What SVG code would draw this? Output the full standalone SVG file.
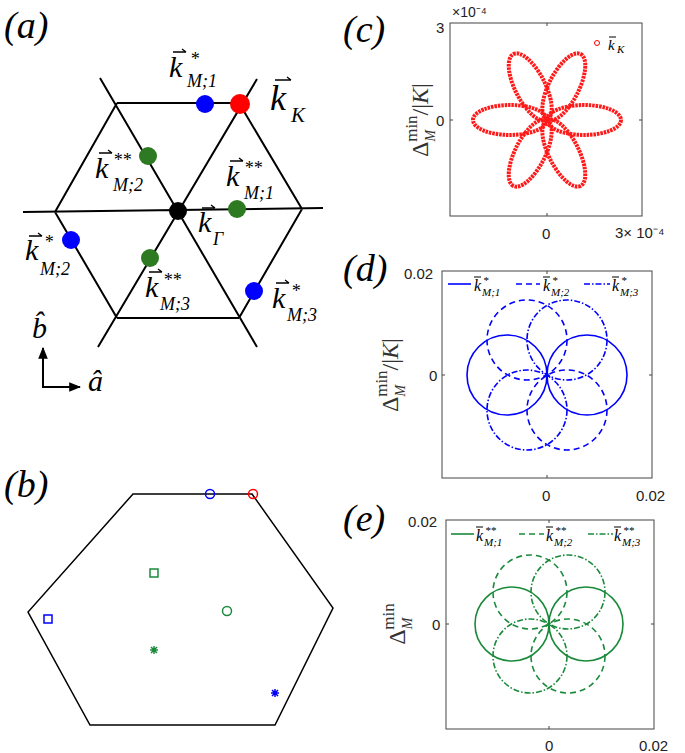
<svg xmlns="http://www.w3.org/2000/svg" width="685" height="753" viewBox="0 0 685 753">
<style>
.ln{stroke:#000;stroke-width:2;fill:none}
.k{font-family:'Liberation Serif',serif;font-style:italic;font-size:30px}
.sb{font-family:'Liberation Serif',serif;font-style:italic;font-size:18px}
.pl{font-family:'Liberation Serif',serif;font-style:italic;font-size:38px}
.tk{font-family:'Liberation Sans',sans-serif;font-size:15px;fill:#222}
.ax{fill:none;stroke:#444;stroke-width:1}
.lg{font-family:'Liberation Serif',serif;font-style:italic;font-size:18px}
.ls{font-family:'Liberation Serif',serif;font-style:italic;font-size:11px}
.ar{stroke:#000;stroke-width:1.3;fill:none}
.yl{font-family:'Liberation Serif',serif;font-size:24px;fill:#333}
</style>
<defs>
<marker id="ah" viewBox="0 0 10 10" refX="9" refY="5" markerWidth="6" markerHeight="6" orient="auto"><path d="M0,1 L10,5 L0,9 z"/></marker>
</defs>
<rect width="685" height="753" fill="#fff"/>
<text class="pl" x="4" y="38">(a)</text>
<text class="pl" x="4" y="497">(b)</text>
<text class="pl" x="343" y="42">(c)</text>
<text class="pl" x="343" y="281">(d)</text>
<text class="pl" x="343" y="531">(e)</text>
<g id="panel-a">
<path class="ln" d="M117,103 H239 M117,318 H239 M23,212 L323,208 M100,78 L257,347 M257,79 L98,347 M117,103 L55,212 L117,318 M239,103 L302,209 L239,318"/>
<circle cx="205" cy="104" r="9" fill="#0000ff"/>
<circle cx="240" cy="104" r="10" fill="#ff0000"/>
<circle cx="148" cy="156" r="9" fill="#2e7a22"/>
<circle cx="237" cy="209" r="9" fill="#2e7a22"/>
<circle cx="150" cy="258" r="9" fill="#2e7a22"/>
<circle cx="71" cy="240" r="9" fill="#0000ff"/>
<circle cx="254" cy="291" r="9" fill="#0000ff"/>
<circle cx="178" cy="211" r="9" fill="#000"/>
<g>
<text class="k" x="169" y="77">k</text><path class="ar" d="M173,52 H186 M182,49 L186,52"/><text class="sb" x="190" y="65">*</text><text class="sb" x="187" y="87">M;1</text>
<text class="k" x="270" y="110" style="font-size:36px">k</text><path class="ar" d="M275,80 H291 M287,77 L291,80"/><text class="sb" x="291" y="122" style="font-size:21px">K</text>
<text class="k" x="95" y="178">k</text><path class="ar" d="M99,153 H112 M108,150 L112,153"/><text class="sb" x="113" y="166">**</text><text class="sb" x="113" y="191">M;2</text>
<text class="k" x="226" y="186">k</text><path class="ar" d="M230,161 H243 M239,158 L243,161"/><text class="sb" x="244" y="174">**</text><text class="sb" x="244" y="199">M;1</text>
<text class="k" x="198" y="232">k</text><path class="ar" d="M202,208 H215 M211,205 L215,208"/><text class="sb" x="213" y="245">Γ</text>
<text class="k" x="25" y="260">k</text><path class="ar" d="M29,236 H42 M38,233 L42,236"/><text class="sb" x="44" y="248">*</text><text class="sb" x="40" y="275">M;2</text>
<text class="k" x="145" y="297">k</text><path class="ar" d="M149,272 H162 M158,269 L162,272"/><text class="sb" x="163" y="286">**</text><text class="sb" x="160" y="310">M;3</text>
<text class="k" x="272" y="308">k</text><path class="ar" d="M276,283 H289 M285,280 L289,283"/><text class="sb" x="291" y="297">*</text><text class="sb" x="287" y="321">M;3</text>
</g>
<path d="M43,387 V348" stroke="#000" stroke-width="2" marker-end="url(#ah)"/>
<path d="M42,387 H80" stroke="#000" stroke-width="2" marker-end="url(#ah)"/>
<text class="k" x="32" y="338">b̂</text>
<text class="k" x="88" y="391">â</text>
</g>
<g id="panel-b">
<path class="ln" style="stroke-width:1.5" d="M133,494 H252 L333,608 L275,725 H90 L28,612 Z"/>
<circle cx="210" cy="494" r="4.5" fill="none" stroke="#0000ff" stroke-width="1.5"/>
<circle cx="253" cy="494" r="4.5" fill="none" stroke="#ff0000" stroke-width="1.5"/>
<rect x="150" y="569" width="8" height="8" fill="none" stroke="#1a8a3a" stroke-width="1.5"/>
<circle cx="227" cy="611" r="4.5" fill="none" stroke="#1a8a3a" stroke-width="1.5"/>
<rect x="44" y="615" width="8" height="8" fill="none" stroke="#0000ff" stroke-width="1.5"/>
<path d="M150,650 h8 M154,646 v8 M151,647 l6,6 M157,647 l-6,6" stroke="#1a8a3a" stroke-width="1.5"/>
<path d="M271,693 h8 M275,689 v8 M272,690 l6,6 M278,690 l-6,6" stroke="#0000ff" stroke-width="1.5"/>
</g>
<g id="panel-c">
<rect class="ax" x="450" y="23" width="192" height="193"/>
<path class="ax" d="M547,216 v-3 M547,23 v3 M450,120 h3 M642,120 h-3"/>
<text class="tk" x="436" y="33">3</text>
<text class="tk" x="452" y="17" style="font-size:14px">×10⁻⁴</text>
<text class="tk" x="436" y="126">0</text>
<text class="tk" x="542" y="239">0</text>
<text class="tk" x="615" y="238">3× 10⁻⁴</text>
<g fill="none" stroke="#ff1a1a" stroke-width="4" stroke-dasharray="2.5 0.9">
<ellipse cx="584" cy="120" rx="37" ry="15"/>
<ellipse cx="510" cy="120" rx="37" ry="15"/>
<ellipse cx="584" cy="120" rx="37" ry="15" transform="rotate(-63 547 120)"/>
<ellipse cx="584" cy="120" rx="37" ry="15" transform="rotate(-117 547 120)"/>
<ellipse cx="584" cy="120" rx="37" ry="15" transform="rotate(63 547 120)"/>
<ellipse cx="584" cy="120" rx="37" ry="15" transform="rotate(117 547 120)"/>
</g>
<circle cx="597" cy="43" r="2.5" fill="none" stroke="#ff0000"/>
<text class="lg" x="608" y="50" style="font-size:15px">k</text><path class="ar" d="M609,37 H616" style="stroke-width:1"/><text class="ls" x="617" y="53">K</text>
<text class="yl" transform="translate(428,120) rotate(-90)" text-anchor="middle">Δ<tspan dy="7" font-size="14" font-style="italic">M</tspan><tspan dy="-18" dx="-12" font-size="17">min</tspan><tspan dy="11">/|</tspan><tspan font-style="italic">K</tspan>|</text>
</g>
<g id="panel-d">
<rect class="ax" x="442" y="271" width="210" height="207"/>
<path class="ax" d="M547,478 v-3 M547,271 v3 M442,375 h3 M652,375 h-3"/>
<text class="tk" x="404" y="279">0.02</text>
<text class="tk" x="429" y="381">0</text>
<text class="tk" x="542" y="501">0</text>
<text class="tk" x="636" y="501">0.02</text>
<g fill="none" stroke="#0000ff" stroke-width="1.6">
<circle cx="507" cy="375" r="40"/><circle cx="587" cy="375" r="40"/>
<g stroke-dasharray="6 4"><circle cx="527" cy="340" r="40"/><circle cx="567" cy="410" r="40"/></g>
<g stroke-dasharray="6 2 1.5 2"><circle cx="567" cy="340" r="40"/><circle cx="527" cy="410" r="40"/></g>
<rect x="446" y="274" width="202" height="20" fill="#fff" stroke="none"/>
<path d="M448,284 H471"/><path d="M516,284 H540" stroke-dasharray="6 4"/><path d="M584,284 H610" stroke-dasharray="6 2 1.5 2"/>
</g>
<g fill="#000">
<text class="lg" x="474" y="291" style="font-size:16px">k</text><path class="ar" d="M474,277 H481" style="stroke-width:1"/><text class="ls" x="483" y="284">*</text><text class="ls" x="482" y="296">M;1</text>
<text class="lg" x="543" y="291" style="font-size:16px">k</text><path class="ar" d="M543,277 H550" style="stroke-width:1"/><text class="ls" x="552" y="284">*</text><text class="ls" x="551" y="296">M;2</text>
<text class="lg" x="612" y="291" style="font-size:16px">k</text><path class="ar" d="M612,277 H619" style="stroke-width:1"/><text class="ls" x="621" y="284">*</text><text class="ls" x="620" y="296">M;3</text>
</g>
<text class="yl" transform="translate(398,375) rotate(-90)" text-anchor="middle">Δ<tspan dy="7" font-size="14" font-style="italic">M</tspan><tspan dy="-18" dx="-12" font-size="17">min</tspan><tspan dy="11">/|</tspan><tspan font-style="italic">K</tspan>|</text>
</g>
<g id="panel-e">
<rect class="ax" x="446" y="520" width="208" height="209"/>
<path class="ax" d="M549,729 v-3 M549,520 v3 M446,624 h3 M654,624 h-3"/>
<text class="tk" x="408" y="527">0.02</text>
<text class="tk" x="432" y="630">0</text>
<text class="tk" x="545" y="751">0</text>
<text class="tk" x="639" y="751">0.02</text>
<g fill="none" stroke="#1a8a3a" stroke-width="1.6">
<circle cx="512" cy="624" r="37"/><circle cx="586" cy="624" r="37"/>
<g stroke-dasharray="6 4"><circle cx="530" cy="592" r="37"/><circle cx="568" cy="656" r="37"/></g>
<g stroke-dasharray="6 2 1.5 2"><circle cx="568" cy="592" r="37"/><circle cx="530" cy="656" r="37"/></g>
<rect x="450" y="524" width="200" height="20" fill="#fff" stroke="none"/>
<path d="M451,534 H474"/><path d="M519,534 H544" stroke-dasharray="6 4"/><path d="M588,534 H613" stroke-dasharray="6 2 1.5 2"/>
</g>
<g fill="#000">
<text class="lg" x="476" y="541" style="font-size:16px">k</text><path class="ar" d="M476,527 H483" style="stroke-width:1"/><text class="ls" x="485" y="534">**</text><text class="ls" x="484" y="546">M;1</text>
<text class="lg" x="546" y="541" style="font-size:16px">k</text><path class="ar" d="M546,527 H553" style="stroke-width:1"/><text class="ls" x="555" y="534">**</text><text class="ls" x="554" y="546">M;2</text>
<text class="lg" x="614" y="541" style="font-size:16px">k</text><path class="ar" d="M614,527 H621" style="stroke-width:1"/><text class="ls" x="623" y="534">**</text><text class="ls" x="622" y="546">M;3</text>
</g>
<text class="yl" transform="translate(405,624) rotate(-90)" text-anchor="middle">Δ<tspan dy="7" font-size="14" font-style="italic">M</tspan><tspan dy="-18" dx="-12" font-size="17">min</tspan></text>
</g>
</svg>
